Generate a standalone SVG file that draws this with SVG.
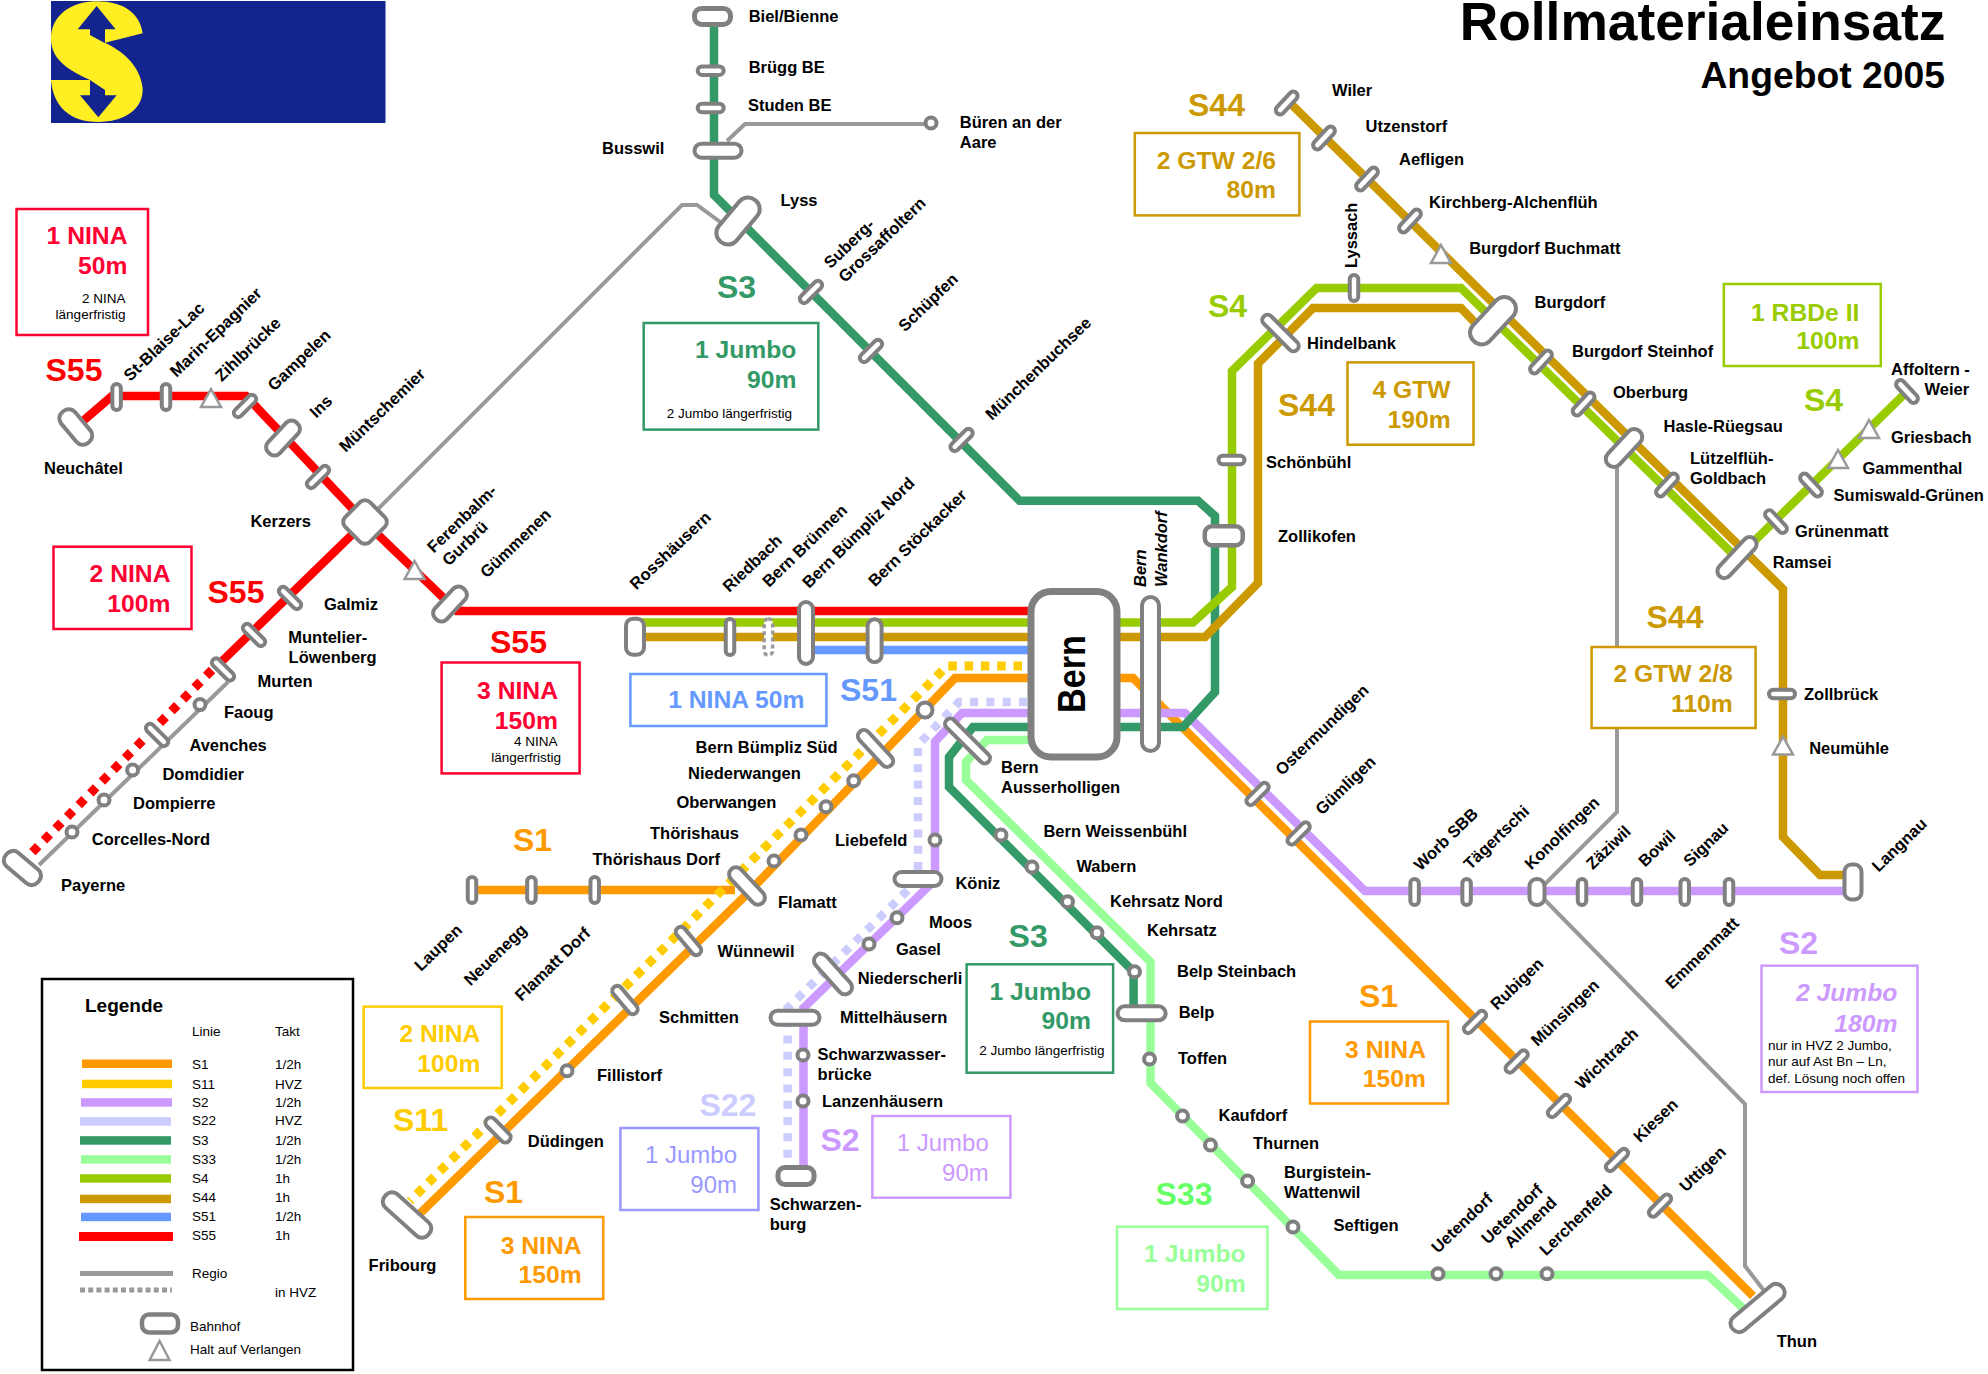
<svg xmlns="http://www.w3.org/2000/svg" width="1988" height="1374" viewBox="0 0 1988 1374">
<style>
text{font-family:"Liberation Sans",Arial,sans-serif;fill:#000}
.l{font-size:16.5px;font-weight:700}
.i{font-style:italic}
.h{font-size:32px;font-weight:700}
.b{font-size:24.7px;font-weight:700;text-anchor:end}
.n{font-size:24px;text-anchor:end}
.s{font-size:13.5px;text-anchor:end}
.g{font-size:13.5px}
.line{fill:none;stroke-width:8.5;stroke-linejoin:miter}
.dash{stroke-width:9}
.regio{fill:none;stroke:#999;stroke-width:4}
.st{fill:#fff;stroke:#808080;stroke-width:4}
.tr{fill:#fff;stroke:#999;stroke-width:2.5}
.box{fill:none;stroke-width:2.5}
</style>
<defs>
<rect id="p32" class="st" x="-14" y="-4.25" width="28" height="8.5" rx="4.25"/>
<rect id="p30" class="st" x="-13" y="-4.25" width="26" height="8.5" rx="4.25"/>
<circle id="c" class="st" r="5.5"/>
<polygon id="tri" class="tr" points="0,-9 10,9 -10,9"/>
</defs>
<g id="logo">
<rect x="51" y="1" width="334.5" height="122" fill="#14248f"/>
<g transform="translate(40 0) scale(.3333)">
<path fill="#ffee22" d="M170,4C250,4 300,40 308,100L195,128C240,150 300,190 308,265C310,330 250,366 175,366C90,366 40,320 33,240H150C70,205 33,170 33,115C33,50 90,4 170,4Z"/>
<path fill="#14248f" d="M170,18L227,88H195V130L150,105V88H113Z"/>
<path fill="#14248f" d="M150,240L195,270V286H230L175,352L120,286H150Z"/>
</g>
</g>
<g id="title">
<text x="1945.5" y="40" font-size="53.3" font-weight="700" text-anchor="end">Rollmaterialeinsatz</text>
<text x="1945" y="88" font-size="37.3" font-weight="700" text-anchor="end">Angebot 2005</text>
</g>
<g id="connectors">
<path class="regio" d="M365,522L682,205H697L738,235"/>
<path class="regio" d="M727,141L745,124H930"/>
<path class="regio" d="M1617,467V812L1537,892L1745,1104V1266L1765,1292"/>
<path class="regio" d="M228,682L39,865"/>
<path class="line" stroke="#FF9900" d="M472,890H735"/>
<path class="line" stroke="#FF9900" d="M420,1213.5L745,896L955,678H1133L1753,1296"/>
<path class="line dash" stroke="#FFCC00" stroke-dasharray="8.5 7.8" d="M1022,666H947L410,1201"/>
<path class="line" stroke="#CCCCFF" stroke-dasharray="8 8.3" d="M1027,702H959L918,745V880L787.6,1008V1170"/>
<path class="line" stroke="#CC99FF" d="M803.5,1170V1008L935,880V741.7L962,713H1185L1365,891H1853"/>
<path class="line" stroke="#339966" d="M714,16V195L1019.6,500.7H1198L1215,516V692L1183,727H973L949,757V787L1133.6,971.7V1013"/>
<path class="line" stroke="#99FF99" d="M1030,740H987L966,762V780L1150.5,962V1083L1339,1275H1707.6L1745,1310"/>
<path class="line" stroke="#6699FF" d="M806,650H1030"/>
<path class="line" stroke="#FF0000" d="M76,427L112,396H246L365,522L457,611H1030"/>
<path class="line" stroke="#FF0000" d="M365,522L215,668"/>
<path class="line dash" stroke="#FF0000" stroke-dasharray="8.25 8.25" d="M212,670L28.5,856"/>
<path class="line" stroke="#99CC00" d="M635,622.5H1193L1232,587V371L1316.6,288H1461L1737,558L1907,391.5"/>
<path class="line" stroke="#CC9900" d="M635,637H1205L1258,583V363.6L1313,308H1461L1482,330"/>
<path class="line" stroke="#CC9900" d="M1287,100L1783,589V837L1820,875H1853"/>
</g>
<g id="n-biel"><rect class="st" style="stroke-width:5" transform="translate(712.5 16.4)" x="-18" y="-8" width="36" height="16" rx="7"/><text class="l" x="748.7" y="22">Biel/Bienne</text></g>
<g id="n-bruegg"><use href="#p30" transform="translate(710.7 70.7)"/><text class="l" x="748.7" y="73">Brügg BE</text></g>
<g id="n-studen"><use href="#p30" transform="translate(710.7 108)"/><text class="l" x="748" y="110.7">Studen BE</text></g>
<g id="n-busswil"><rect class="st" transform="translate(718 150.7)" x="-23.5" y="-7" width="47" height="14" rx="7"/><text class="l" x="602" y="153.6">Busswil</text></g>
<g id="n-bueren"><use href="#c" transform="translate(931 123)"/><text class="l" x="959.8" y="128">Büren an der</text><text class="l" x="959.8" y="148">Aare</text></g>
<g id="n-lyss"><rect class="st" transform="translate(738 221) rotate(-50)" x="-27" y="-11.5" width="54" height="23" rx="11"/><text class="l" x="780.5" y="206">Lyss</text></g>
<g id="n-suberg"><use href="#p32" transform="translate(811 292) rotate(-45)"/><text class="l" transform="translate(830.5 269.3) rotate(-44)">Suberg-</text><text class="l" transform="translate(845 283.3) rotate(-44)">Grossaffoltern</text></g>
<g id="n-schuepfen"><use href="#p32" transform="translate(871 351) rotate(-45)"/><text class="l" transform="translate(905 332.5) rotate(-44)">Schüpfen</text></g>
<g id="n-muenchenb"><use href="#p32" transform="translate(961.6 440) rotate(-45)"/><text class="l" transform="translate(992 420.9) rotate(-44)">Münchenbuchsee</text></g>
<g id="n-wiler"><use href="#p32" transform="translate(1286.7 103) rotate(-47)"/><text class="l" x="1332" y="95.7">Wiler</text></g>
<g id="n-utzenstorf"><use href="#p32" transform="translate(1324 138) rotate(-47)"/><text class="l" x="1365.6" y="132">Utzenstorf</text></g>
<g id="n-aefligen"><use href="#p32" transform="translate(1367 179) rotate(-47)"/><text class="l" x="1399" y="164.6">Aefligen</text></g>
<g id="n-kirchberg"><use href="#p32" transform="translate(1410 221) rotate(-47)"/><text class="l" x="1429" y="207.8">Kirchberg-Alchenflüh</text></g>
<g id="n-buchmatt"><use href="#tri" transform="translate(1441 254)"/><text class="l" x="1469.2" y="253.5">Burgdorf Buchmatt</text></g>
<g id="n-lyssach"><use href="#p30" transform="translate(1354 288) rotate(90)"/><text class="l" transform="translate(1357 268) rotate(-90)">Lyssach</text></g>
<g id="n-hindelbank"><rect class="st" transform="translate(1280.5 333) rotate(45)" x="-23.5" y="-5.25" width="47" height="10.5" rx="5"/><text class="l" x="1307" y="349">Hindelbank</text></g>
<g id="n-burgdorf"><rect class="st" transform="translate(1493 320.7) rotate(-47)" x="-28" y="-11.5" width="56" height="23" rx="11"/><text class="l" x="1534.6" y="308">Burgdorf</text></g>
<g id="n-steinhof"><use href="#p32" transform="translate(1541 362) rotate(-47)"/><text class="l" x="1572" y="356.7">Burgdorf Steinhof</text></g>
<g id="n-oberburg"><use href="#p32" transform="translate(1583.6 404) rotate(-47)"/><text class="l" x="1613" y="398">Oberburg</text></g>
<g id="n-hasle"><rect class="st" transform="translate(1624 448) rotate(-47)" x="-23" y="-8" width="46" height="16" rx="8"/><text class="l" x="1663.5" y="432">Hasle-Rüegsau</text></g>
<g id="n-luetzelflueh"><use href="#p32" transform="translate(1667 485) rotate(-47)"/><text class="l" x="1690" y="463.8">Lützelflüh-</text><text class="l" x="1690" y="484">Goldbach</text></g>
<g id="n-ramsei"><rect class="st" transform="translate(1737 557.6) rotate(-47)" x="-25.5" y="-7" width="51" height="14" rx="7"/><text class="l" x="1772.8" y="567.5">Ramsei</text></g>
<g id="n-gruenenmatt"><use href="#p32" transform="translate(1776 521.6) rotate(47)"/><text class="l" x="1795" y="537">Grünenmatt</text></g>
<g id="n-sumiswald"><use href="#p32" transform="translate(1811 485) rotate(47)"/><text class="l" x="1833.6" y="500.6">Sumiswald-Grünen</text></g>
<g id="n-gammenthal"><use href="#tri" transform="translate(1838 459)"/><text class="l" x="1862.5" y="473.8">Gammenthal</text></g>
<g id="n-griesbach"><use href="#tri" transform="translate(1869 429)"/><text class="l" x="1891" y="442.8">Griesbach</text></g>
<g id="n-affoltern"><use href="#p32" transform="translate(1907 391.5) rotate(47)"/><text class="l" x="1891" y="375">Affoltern -</text><text class="l" x="1924.5" y="395">Weier</text></g>
<g id="n-schoenbuehl"><use href="#p30" transform="translate(1231.5 460)"/><text class="l" x="1266" y="468">Schönbühl</text></g>
<g id="n-zollikofen"><rect class="st" style="stroke-width:4.5" transform="translate(1223.8 535.8)" x="-19" y="-9.5" width="38" height="19" rx="7"/><text class="l" x="1278" y="541.5">Zollikofen</text></g>
<g id="n-neuchatel"><rect class="st" transform="translate(75.8 427) rotate(50)" x="-20" y="-9" width="40" height="18" rx="8"/><text class="l" x="44" y="474">Neuchâtel</text></g>
<g id="n-stblaise"><use href="#p30" transform="translate(116.6 397) rotate(90)"/><text class="l" transform="translate(130.3 382) rotate(-44)">St-Blaise-Lac</text></g>
<g id="n-marin"><use href="#p30" transform="translate(166 397) rotate(90)"/><text class="l" transform="translate(176.5 378) rotate(-44)">Marin-Epagnier</text></g>
<g id="n-zihl"><use href="#tri" transform="translate(211 398)"/><text class="l" transform="translate(221.8 382.3) rotate(-44)">Zihlbrücke</text></g>
<g id="n-gampelen"><use href="#p32" transform="translate(245 406) rotate(-45)"/><text class="l" transform="translate(274.3 391.8) rotate(-44)">Gampelen</text></g>
<g id="n-ins"><rect class="st" transform="translate(283 438) rotate(-47)" x="-20.5" y="-8" width="41" height="16" rx="7"/><text class="l" transform="translate(316.3 418.8) rotate(-44)">Ins</text></g>
<g id="n-muentschemier"><use href="#p32" transform="translate(318 477) rotate(-45)"/><text class="l" transform="translate(345.8 453) rotate(-44)">Müntschemier</text></g>
<g id="n-kerzers"><rect class="st" transform="translate(365 522) rotate(45)" x="-17.5" y="-17.5" width="35" height="35" rx="7"/><text class="l" x="250.4" y="526.7">Kerzers</text></g>
<g id="n-ferenbalm"><use href="#tri" transform="translate(414.6 570)"/><text class="l" transform="translate(433.8 553.8) rotate(-44)">Ferenbalm-</text><text class="l" transform="translate(448.8 566.8) rotate(-44)">Gurbrü</text></g>
<g id="n-guemmenen"><rect class="st" transform="translate(450 604) rotate(-47)" x="-20.5" y="-8" width="41" height="16" rx="7"/><text class="l" transform="translate(486.8 578.8) rotate(-44)">Gümmenen</text></g>
<g id="n-galmiz"><use href="#p32" transform="translate(290 598) rotate(45)"/><text class="l" x="324" y="610">Galmiz</text></g>
<g id="n-muntelier"><use href="#p32" transform="translate(254 635) rotate(45)"/><text class="l" x="288.3" y="642.7">Muntelier-</text><text class="l" x="288.6" y="662.5">Löwenberg</text></g>
<g id="n-murten"><use href="#p32" transform="translate(223 669.5) rotate(45)"/><text class="l" x="257.6" y="687">Murten</text></g>
<g id="n-faoug"><use href="#c" transform="translate(200 704.6)"/><text class="l" x="224" y="718">Faoug</text></g>
<g id="n-avenches"><use href="#p32" transform="translate(157 735) rotate(45)"/><text class="l" x="189.4" y="750.5">Avenches</text></g>
<g id="n-domdidier"><use href="#c" transform="translate(132.6 770)"/><text class="l" x="162.4" y="779.5">Domdidier</text></g>
<g id="n-dompierre"><use href="#c" transform="translate(104 800)"/><text class="l" x="133" y="808.5">Dompierre</text></g>
<g id="n-corcelles"><use href="#c" transform="translate(72 832)"/><text class="l" x="91.8" y="845">Corcelles-Nord</text></g>
<g id="n-payerne"><rect class="st" transform="translate(22.4 868) rotate(40)" x="-21" y="-9" width="42" height="18" rx="8"/><text class="l" x="61" y="890.5">Payerne</text></g>
<g id="n-rosshaeusern"><rect class="st" transform="translate(635 636.7)" x="-9" y="-18" width="18" height="36" rx="7"/><text class="l" transform="translate(636.3 590.5) rotate(-43.5)">Rosshäusern</text></g>
<g id="n-riedbach"><rect class="st" transform="translate(730 637)" x="-4.25" y="-18" width="8.5" height="36" rx="4"/><text class="l" transform="translate(729.3 593) rotate(-43.5)">Riedbach</text></g>
<g id="n-bruennen"><rect class="st" style="stroke:#999;stroke-width:3.5;stroke-dasharray:4 3" transform="translate(768.4 637)" x="-4.25" y="-18" width="8.5" height="36" rx="4"/><text class="l" transform="translate(769 588) rotate(-44)">Bern Brünnen</text></g>
<g id="n-buemplizn"><rect class="st" transform="translate(806 633)" x="-7" y="-31" width="14" height="62" rx="7"/><text class="l" transform="translate(809 589) rotate(-44.5)">Bern Bümpliz Nord</text></g>
<g id="n-stoeckacker"><rect class="st" transform="translate(874.6 640.7)" x="-7" y="-21.5" width="14" height="43" rx="7"/><text class="l" transform="translate(875 587.5) rotate(-44.5)">Bern Stöckacker</text></g>
<g id="n-bern"><rect class="st" style="stroke-width:7" x="1031" y="591.5" width="86" height="165.5" rx="20"/><text font-size="38" font-weight="700" text-anchor="middle" textLength="78" lengthAdjust="spacingAndGlyphs" transform="translate(1085 674) rotate(-90)">Bern</text></g>
<g id="n-wankdorf"><rect class="st" x="1142" y="597" width="17" height="154" rx="8.5"/><text class="l i" transform="translate(1146 587) rotate(-90)">Bern</text><text class="l i" transform="translate(1167 587) rotate(-90)">Wankdorf</text></g>
<g id="n-bernbs"><circle class="st" cx="925" cy="710" r="7.5"/><text class="l" x="695.6" y="752.7">Bern Bümpliz Süd</text></g>
<g id="n-niederwangen"><rect class="st" transform="translate(875.5 748.5) rotate(47)" x="-23" y="-6" width="46" height="12" rx="6"/><text class="l" x="688" y="779">Niederwangen</text></g>
<g id="n-oberwangen"><use href="#c" transform="translate(853.7 780.7)"/><text class="l" x="676.4" y="808.3">Oberwangen</text></g>
<g id="n-thoerishaus"><use href="#c" transform="translate(826 806.7)"/><text class="l" x="650" y="838.5">Thörishaus</text></g>
<g id="n-thoerishausd"><use href="#c" transform="translate(801 835)"/><text class="l" x="592.5" y="865">Thörishaus Dorf</text></g>
<g id="n-flamattd"><use href="#c" transform="translate(774 861)"/></g>
<g id="n-flamatt"><rect class="st" transform="translate(747 886) rotate(47)" x="-23" y="-7" width="46" height="14" rx="7"/><text class="l" x="778" y="908.3">Flamatt</text></g>
<g id="n-laupen"><use href="#p30" transform="translate(472 890) rotate(90)"/><text class="l" transform="translate(421 972) rotate(-44)">Laupen</text></g>
<g id="n-neuenegg"><use href="#p30" transform="translate(531.4 890) rotate(90)"/><text class="l" transform="translate(470.5 986.5) rotate(-44)">Neuenegg</text></g>
<g id="n-flamattdorf"><use href="#p30" transform="translate(594.7 890) rotate(90)"/><text class="l" transform="translate(521.5 1002) rotate(-44)">Flamatt Dorf</text></g>
<g id="n-wuennewil"><rect class="st" transform="translate(688.5 941) rotate(50)" x="-17" y="-5" width="34" height="10" rx="5"/><text class="l" x="717.5" y="956.7">Wünnewil</text></g>
<g id="n-schmitten"><rect class="st" transform="translate(625 1000) rotate(50)" x="-17" y="-5" width="34" height="10" rx="5"/><text class="l" x="659" y="1022.7">Schmitten</text></g>
<g id="n-fillistorf"><use href="#c" transform="translate(567 1070.7)"/><text class="l" x="597" y="1080.7">Fillistorf</text></g>
<g id="n-duedingen"><rect class="st" transform="translate(498 1130) rotate(45)" x="-15.5" y="-5.25" width="31" height="10.5" rx="5"/><text class="l" x="527.8" y="1146.6">Düdingen</text></g>
<g id="n-fribourg"><rect class="st" transform="translate(407 1215) rotate(42)" x="-29" y="-9" width="58" height="18" rx="8"/><text class="l" x="368.6" y="1271">Fribourg</text></g>
<g id="n-ausserholligen"><rect class="st" transform="translate(967.5 741) rotate(45)" x="-29.5" y="-5.25" width="59" height="10.5" rx="5"/><text class="l" x="1001" y="772.7">Bern</text><text class="l" x="1001" y="792.7">Ausserholligen</text></g>
<g id="n-liebefeld"><use href="#c" transform="translate(935 840)"/><text class="l" x="835" y="846">Liebefeld</text></g>
<g id="n-koeniz"><rect class="st" transform="translate(918 879)" x="-23.5" y="-7" width="47" height="14" rx="7"/><text class="l" x="955.4" y="889">Köniz</text></g>
<g id="n-moos"><use href="#c" transform="translate(897 917.7)"/><text class="l" x="929" y="927.7">Moos</text></g>
<g id="n-gasel"><use href="#c" transform="translate(869 944)"/><text class="l" x="896" y="955">Gasel</text></g>
<g id="n-niederscherli"><rect class="st" transform="translate(833 974) rotate(48)" x="-25" y="-7" width="50" height="14" rx="7"/><text class="l" x="857.7" y="983.8">Niederscherli</text></g>
<g id="n-mittelhaeusern"><rect class="st" transform="translate(795 1017.7)" x="-24.5" y="-7" width="49" height="14" rx="7"/><text class="l" x="840" y="1022.7">Mittelhäusern</text></g>
<g id="n-schwarzwasser"><use href="#c" transform="translate(803 1055)"/><text class="l" x="817.6" y="1060">Schwarzwasser-</text><text class="l" x="817.6" y="1080">brücke</text></g>
<g id="n-lanzenhaeusern"><use href="#c" transform="translate(803 1101)"/><text class="l" x="822" y="1106.7">Lanzenhäusern</text></g>
<g id="n-schwarzenburg"><rect class="st" style="stroke-width:5" transform="translate(796 1176)" x="-18" y="-8.5" width="36" height="17" rx="7"/><text class="l" x="769.7" y="1210">Schwarzen-</text><text class="l" x="769.7" y="1230">burg</text></g>
<g id="n-weissenbuehl"><use href="#c" transform="translate(1001 835)"/><text class="l" x="1043.4" y="836.7">Bern Weissenbühl</text></g>
<g id="n-wabern"><use href="#c" transform="translate(1032 867)"/><text class="l" x="1076.4" y="871.7">Wabern</text></g>
<g id="n-kehrsatzn"><use href="#c" transform="translate(1067.5 901.7)"/><text class="l" x="1110" y="906.7">Kehrsatz Nord</text></g>
<g id="n-kehrsatz"><use href="#c" transform="translate(1097 932.7)"/><text class="l" x="1147" y="935.7">Kehrsatz</text></g>
<g id="n-belpst"><use href="#c" transform="translate(1134.5 971.7)"/><text class="l" x="1177" y="976.7">Belp Steinbach</text></g>
<g id="n-belp"><rect class="st" transform="translate(1141.6 1013.3)" x="-24" y="-7" width="48" height="14" rx="7"/><text class="l" x="1178.7" y="1017.7">Belp</text></g>
<g id="n-toffen"><use href="#c" transform="translate(1149.5 1059)"/><text class="l" x="1178" y="1064.3">Toffen</text></g>
<g id="n-kaufdorf"><use href="#c" transform="translate(1182.5 1116)"/><text class="l" x="1218.5" y="1120.7">Kaufdorf</text></g>
<g id="n-thurnen"><use href="#c" transform="translate(1210.5 1145)"/><text class="l" x="1253" y="1149">Thurnen</text></g>
<g id="n-burgistein"><use href="#c" transform="translate(1247.6 1181)"/><text class="l" x="1284" y="1178">Burgistein-</text><text class="l" x="1284" y="1198">Wattenwil</text></g>
<g id="n-seftigen"><use href="#c" transform="translate(1293 1227)"/><text class="l" x="1333.5" y="1230.8">Seftigen</text></g>
<g id="n-uetendorf"><use href="#c" transform="translate(1438 1273.7)"/><text class="l" transform="translate(1438 1254) rotate(-44)">Uetendorf</text></g>
<g id="n-allmend"><use href="#c" transform="translate(1496 1273.7)"/><text class="l" transform="translate(1488 1245) rotate(-44)">Uetendorf</text><text class="l" transform="translate(1511 1249) rotate(-44)">Allmend</text></g>
<g id="n-lerchenfeld"><use href="#c" transform="translate(1547 1273.7)"/><text class="l" transform="translate(1546 1256.5) rotate(-44)">Lerchenfeld</text></g>
<g id="n-thun"><rect class="st" transform="translate(1757.6 1308) rotate(-40)" x="-32.5" y="-8.5" width="65" height="17" rx="8"/><text class="l" x="1776.7" y="1347">Thun</text></g>
<g id="n-ostermundigen"><use href="#p32" transform="translate(1257.6 794) rotate(-45)"/><text class="l" transform="translate(1282 776.2) rotate(-44)">Ostermundigen</text></g>
<g id="n-guemligen"><use href="#p32" transform="translate(1298.7 833.5) rotate(-45)"/><text class="l" transform="translate(1322 815.8) rotate(-44)">Gümligen</text></g>
<g id="n-rubigen"><use href="#p32" transform="translate(1475 1022) rotate(-45)"/><text class="l" transform="translate(1497 1010.8) rotate(-44)">Rubigen</text></g>
<g id="n-muensingen"><use href="#p32" transform="translate(1516.7 1061.5) rotate(-45)"/><text class="l" transform="translate(1537.5 1047) rotate(-44)">Münsingen</text></g>
<g id="n-wichtrach"><use href="#p32" transform="translate(1559 1106) rotate(-45)"/><text class="l" transform="translate(1582 1090.2) rotate(-44)">Wichtrach</text></g>
<g id="n-kiesen"><use href="#p32" transform="translate(1617 1160) rotate(-45)"/><text class="l" transform="translate(1640 1143.3) rotate(-44)">Kiesen</text></g>
<g id="n-uttigen"><use href="#p32" transform="translate(1660 1205.6) rotate(-45)"/><text class="l" transform="translate(1686 1192.8) rotate(-44)">Uttigen</text></g>
<g id="n-worb"><use href="#p30" transform="translate(1414.6 892) rotate(90)"/><text class="l" transform="translate(1420.5 871.5) rotate(-44)">Worb SBB</text></g>
<g id="n-taegertschi"><use href="#p30" transform="translate(1466.6 892) rotate(90)"/><text class="l" transform="translate(1470.3 870.5) rotate(-44)">Tägertschi</text></g>
<g id="n-konolfingen"><rect class="st" transform="translate(1537 892)" x="-7.5" y="-13" width="15" height="26" rx="7"/><text class="l" transform="translate(1531.3 870.5) rotate(-44)">Konolfingen</text></g>
<g id="n-zaeziwil"><use href="#p30" transform="translate(1582 892) rotate(90)"/><text class="l" transform="translate(1592.8 870.3) rotate(-44)">Zäziwil</text></g>
<g id="n-bowil"><use href="#p30" transform="translate(1637 892) rotate(90)"/><text class="l" transform="translate(1645 867.8) rotate(-44)">Bowil</text></g>
<g id="n-signau"><use href="#p30" transform="translate(1684.7 892) rotate(90)"/><text class="l" transform="translate(1690 867.5) rotate(-44)">Signau</text></g>
<g id="n-emmenmatt"><use href="#p30" transform="translate(1729 892) rotate(90)"/><text class="l" transform="translate(1672 990) rotate(-44)">Emmenmatt</text></g>
<g id="n-langnau"><rect class="st" transform="translate(1853 882)" x="-8.5" y="-17.5" width="17" height="35" rx="7"/><text class="l" transform="translate(1878.5 872.8) rotate(-44)">Langnau</text></g>
<g id="n-zollbrueck"><use href="#p30" transform="translate(1782 694)"/><text class="l" x="1804" y="700">Zollbrück</text></g>
<g id="n-neumuehle"><use href="#tri" transform="translate(1783 745.6)"/><text class="l" x="1809.2" y="754">Neumühle</text></g>
<g id="labels">
<text class="h" x="45.5" y="380.5" style="fill:#f00">S55</text>
<text class="h" x="207.5" y="602.5" style="fill:#f00">S55</text>
<text class="h" x="490" y="652.5" style="fill:#f00">S55</text>
<text class="h" x="717" y="298" style="fill:#396">S3</text>
<text class="h" x="1188" y="115.5" style="fill:#c90">S44</text>
<text class="h" x="1208" y="317" style="fill:#9c0">S4</text>
<text class="h" x="1278" y="416" style="fill:#c90">S44</text>
<text class="h" x="1804" y="410.6" style="fill:#9c0">S4</text>
<text class="h" x="1646.5" y="628" style="fill:#c90">S44</text>
<text class="h" x="1779" y="954" style="fill:#c9f">S2</text>
<text class="h" x="1359" y="1007" style="fill:#f90">S1</text>
<text class="h" x="513" y="851" style="fill:#f90">S1</text>
<text class="h" x="393" y="1131" style="fill:#fc0">S11</text>
<text class="h" x="484" y="1203" style="fill:#f90">S1</text>
<text class="h" x="699.4" y="1116" style="fill:#ccf">S22</text>
<text class="h" x="820.5" y="1151" style="fill:#c9f">S2</text>
<text class="h" x="1155.5" y="1205" style="fill:#6f6">S33</text>
<text class="h" x="1008.6" y="946.7" style="fill:#396">S3</text>
<text class="h" x="840" y="701" style="fill:#69f">S51</text>
</g>
<g id="boxes">
<g id="box-s55a"><rect class="box" stroke="#f03" x="16.5" y="209" width="131.5" height="126"/><text class="b" x="127.5" y="244" style="fill:#f03">1 NINA</text><text class="b" x="127.5" y="274" style="fill:#f03">50m</text><text class="s" x="125.4" y="302.7">2 NINA</text><text class="s" x="125.4" y="319">längerfristig</text></g>
<g id="box-s55b"><rect class="box" stroke="#f03" x="53.5" y="546.7" width="138" height="82.3"/><text class="b" x="170.5" y="581.7" style="fill:#f03">2 NINA</text><text class="b" x="170.5" y="611.7" style="fill:#f03">100m</text></g>
<g id="box-s55c"><rect class="box" stroke="#f03" x="441.6" y="662.5" width="138" height="110.9"/><text class="b" x="558" y="698.5" style="fill:#f03">3 NINA</text><text class="b" x="558" y="729" style="fill:#f03">150m</text><text class="s" x="557.5" y="745.8">4 NINA</text><text class="s" x="561" y="761.7">längerfristig</text></g>
<g id="box-s3a"><rect class="box" stroke="#396" x="643.7" y="323" width="174.6" height="106.6"/><text class="b" x="796.4" y="358" style="fill:#396">1 Jumbo</text><text class="b" x="796.4" y="388" style="fill:#396">90m</text><text class="s" x="792" y="417.5">2 Jumbo längerfristig</text></g>
<g id="box-s44a"><rect class="box" stroke="#c90" x="1134.8" y="133" width="164.6" height="82.4"/><text class="b" x="1276" y="169" style="fill:#c90">2 GTW 2/6</text><text class="b" x="1276" y="198" style="fill:#c90">80m</text></g>
<g id="box-s44b"><rect class="box" stroke="#c90" x="1347.5" y="362.4" width="126" height="82.3"/><text class="b" x="1450.6" y="398" style="fill:#c90">4 GTW</text><text class="b" x="1450.6" y="428" style="fill:#c90">190m</text></g>
<g id="box-s4"><rect class="box" stroke="#9c0" x="1723.8" y="284" width="157" height="82"/><text class="b" x="1859.4" y="320.7" style="fill:#9c0">1 RBDe II</text><text class="b" x="1859.4" y="349.4" style="fill:#9c0">100m</text></g>
<g id="box-s44c"><rect class="box" stroke="#c90" style="fill:#fff" x="1591.6" y="647" width="164" height="81"/><text class="b" x="1732.8" y="682.4" style="fill:#c90">2 GTW 2/8</text><text class="b" x="1732.8" y="712" style="fill:#c90">110m</text></g>
<g id="box-s2a"><rect class="box" stroke="#c9f" x="1761.5" y="965.7" width="156" height="126.3"/><text class="b i" x="1897.4" y="1000.8" style="fill:#c9f">2 Jumbo</text><text class="b i" x="1897.4" y="1032" style="fill:#c9f">180m</text><text class="g" x="1768" y="1050">nur in HVZ 2 Jumbo,</text><text class="g" x="1768" y="1066.4">nur auf Ast Bn – Ln,</text><text class="g" x="1768" y="1082.7">def. Lösung noch offen</text></g>
<g id="box-s1a"><rect class="box" stroke="#f90" x="1310" y="1021.5" width="138" height="82"/><text class="b" x="1426" y="1057.5" style="fill:#f90">3 NINA</text><text class="b" x="1426" y="1087" style="fill:#f90">150m</text></g>
<g id="box-s11"><rect class="box" stroke="#fc0" x="363.7" y="1006.6" width="138" height="81.4"/><text class="b" x="480.4" y="1042" style="fill:#fc0">2 NINA</text><text class="b" x="480.4" y="1071.7" style="fill:#fc0">100m</text></g>
<g id="box-s1b"><rect class="box" stroke="#f90" x="465.3" y="1217" width="138" height="82"/><text class="b" x="581.6" y="1254" style="fill:#f90">3 NINA</text><text class="b" x="581.6" y="1282.8" style="fill:#f90">150m</text></g>
<g id="box-s22"><rect class="box" stroke="#99f" x="620.4" y="1128" width="138" height="82"/><text class="n" x="737" y="1163" style="fill:#99f">1 Jumbo</text><text class="n" x="737" y="1192.7" style="fill:#99f">90m</text></g>
<g id="box-s2b"><rect class="box" stroke="#c9f" x="872.4" y="1116" width="138" height="81.7"/><text class="n" x="988.8" y="1151" style="fill:#c9f">1 Jumbo</text><text class="n" x="988.8" y="1180.7" style="fill:#c9f">90m</text></g>
<g id="box-s33"><rect class="box" stroke="#9f9" x="1117" y="1226.7" width="150.5" height="82.3"/><text class="b" x="1245.6" y="1261.7" style="fill:#9f9">1 Jumbo</text><text class="b" x="1245.6" y="1291.7" style="fill:#9f9">90m</text></g>
<g id="box-s3b"><rect class="box" stroke="#396" x="966.6" y="964.3" width="146.5" height="108.4"/><text class="b" x="1091" y="1000" style="fill:#396">1 Jumbo</text><text class="b" x="1091" y="1029.3" style="fill:#396">90m</text><text class="s" x="1104.5" y="1055">2 Jumbo längerfristig</text></g>
<g id="box-s51"><rect class="box" stroke="#69f" x="630.4" y="674" width="196" height="52"/><text class="b" x="804.5" y="708.3" style="fill:#69f">1 NINA 50m</text></g>
</g>
<g id="legend">
<rect x="42" y="979" width="311" height="391" fill="none" stroke="#000" stroke-width="2.5"/>
<text x="85" y="1012" font-size="19" font-weight="700">Legende</text>
<text class="g" x="192" y="1036">Linie</text><text class="g" x="275" y="1036">Takt</text>
<rect x="82" y="1059.5" width="90" height="8.5" fill="#FF9900"/><text class="g" x="192" y="1069">S1</text><text class="g" x="275" y="1069">1/2h</text>
<rect x="82" y="1079.7" width="90" height="8.5" fill="#FFCC00"/><text class="g" x="192" y="1089">S11</text><text class="g" x="275" y="1089">HVZ</text>
<rect x="81" y="1098.2" width="91" height="8.5" fill="#CC99FF"/><text class="g" x="192" y="1106.5">S2</text><text class="g" x="275" y="1106.5">1/2h</text>
<rect x="80" y="1117.2" width="91" height="8.5" fill="#CCCCFF"/><text class="g" x="192" y="1125">S22</text><text class="g" x="275" y="1125">HVZ</text>
<rect x="80" y="1136.2" width="91" height="8.5" fill="#339966"/><text class="g" x="192" y="1144.5">S3</text><text class="g" x="275" y="1144.5">1/2h</text>
<rect x="81" y="1155.2" width="90" height="8.5" fill="#99FF99"/><text class="g" x="192" y="1163.5">S33</text><text class="g" x="275" y="1163.5">1/2h</text>
<rect x="80" y="1174.2" width="91" height="8.5" fill="#99CC00"/><text class="g" x="192" y="1182.5">S4</text><text class="g" x="275" y="1182.5">1h</text>
<rect x="80" y="1194.7" width="91" height="8.5" fill="#CC9900"/><text class="g" x="192" y="1201.5">S44</text><text class="g" x="275" y="1201.5">1h</text>
<rect x="81" y="1212.7" width="90" height="8.5" fill="#6699FF"/><text class="g" x="192" y="1220.5">S51</text><text class="g" x="275" y="1220.5">1/2h</text>
<rect x="79" y="1232" width="94" height="9" fill="#FF0000"/><text class="g" x="192" y="1239.5">S55</text><text class="g" x="275" y="1239.5">1h</text>
<rect x="80" y="1271" width="93" height="5" fill="#999"/><text class="g" x="192" y="1278">Regio</text>
<path d="M80,1290H172" stroke="#999" stroke-width="5" stroke-dasharray="5 3.2" fill="none"/><text class="g" x="275" y="1297">in HVZ</text>
<rect class="st" style="stroke-width:4.5" x="142" y="1314.5" width="36" height="18" rx="7"/><text class="g" x="190" y="1331">Bahnhof</text>
<polygon class="tr" points="159.6,1341 169.5,1360 149.7,1360"/><text class="g" x="190" y="1354">Halt auf Verlangen</text>
</g>
</svg>
